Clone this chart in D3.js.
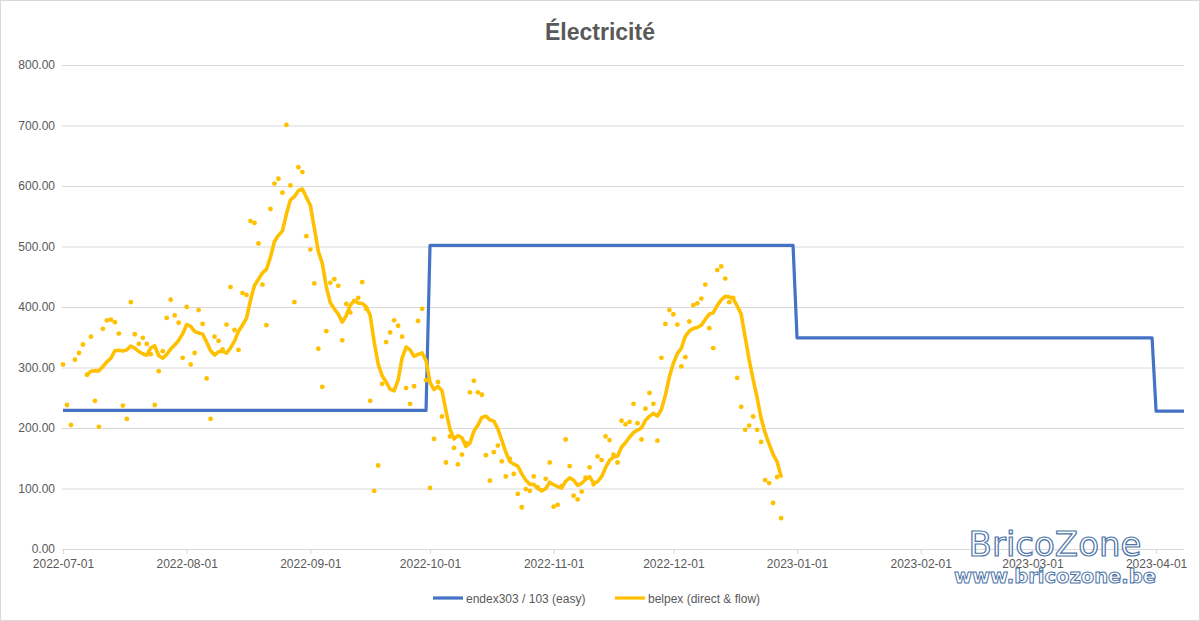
<!DOCTYPE html>
<html>
<head>
<meta charset="utf-8">
<script src="https://cdn.jsdelivr.net/npm/d3@7"></script>
<style>
  html, body { margin: 0; padding: 0; background: #fff; }
  svg { display: block; }
  text { font-family: "Liberation Sans", Arial, sans-serif; }
</style>
</head>
<body>
<svg id="chart" width="1200" height="621"></svg>
<script>
// ---------- DATA ----------
const chartTitle = "Électricité";
const seriesNames = ["endex303 / 103 (easy)", "belpex (direct & flow)"];

// Belpex daily values (€/MWh), one per day starting 2022-07-01
const belpexStart = "2022-07-01";
const belpexValues = [
  305, 238, 205, 313, 324, 338, 288, 351, 245, 202,
  364, 378, 379, 375, 356, 237, 215, 408, 355, 339,
  349, 339, 322, 238, 294, 327, 382, 412, 386, 374,
  316, 400, 305, 324, 395, 372, 282, 215, 351, 344,
  330, 371, 433, 362, 329, 423, 420, 542, 539, 505,
  437, 370, 562, 604, 612, 589, 701, 601, 408, 631,
  623, 517, 495, 439, 331, 268, 360, 440, 446, 435,
  345, 405, 391, 410, 415, 441, 397, 245, 96, 138,
  273, 342, 358, 378, 369, 351, 266, 240, 269, 377,
  397, 279, 101, 182, 276, 219, 143, 186, 167, 140,
  156, 175, 259, 278, 259, 255, 155, 113, 160, 171,
  145, 120, 149, 124, 91, 69, 99, 96, 120, 102,
  97, 116, 143, 70, 73, 104, 181, 137, 88, 82,
  95, 118, 135, 107, 153, 147, 186, 180, 156, 143,
  212, 206, 210, 240, 208, 181, 232, 258, 240, 179,
  316, 372, 395, 388, 371, 302, 317, 376, 403, 406,
  414, 437, 365, 332, 461, 467, 447, 408, 415, 283,
  235, 197, 204, 219, 197, 177, 114, 109, 76, 119,
  51
];
// Excel moving-average trendline period on the belpex series
const trendPeriod = 7;

// Endex step tariff
const endexDates  = ["2022-07-01", "2022-09-30", "2022-10-01", "2022-12-31", "2023-01-01", "2023-03-31", "2023-04-01", "2023-04-08"];
const endexValues = [229, 229, 502, 502, 349, 349, 228, 228];

const xTickLabels = ["2022-07-01", "2022-08-01", "2022-09-01", "2022-10-01", "2022-11-01",
                     "2022-12-01", "2023-01-01", "2023-02-01", "2023-03-01", "2023-04-01"];
const yTickValues = [0, 100, 200, 300, 400, 500, 600, 700, 800];
const xDomain = ["2022-07-01", "2023-04-08"];
const watermark = ["BricoZone", "www.bricozone.be"];

// ---------- LAYOUT ----------
const parse = d3.utcParse("%Y-%m-%d");
const svg = d3.select("#chart");
const W = 1200, H = 621;
const plot = { left: 63, right: 1184, top: 65, bottom: 549 };

const x = d3.scaleUtc().domain(xDomain.map(parse)).range([plot.left, plot.right]);
const y = d3.scaleLinear().domain([0, 800]).range([plot.bottom, plot.top]);

const BLUE = "#4472C4", ORANGE = "#FFC000", GRID = "#d9d9d9", TXT = "#595959";

// chart border
svg.append("rect").attr("x", 0.5).attr("y", 0.5).attr("width", W - 1).attr("height", H - 1)
  .attr("fill", "#fff").attr("stroke", GRID);

// title
svg.append("text").attr("x", 600).attr("y", 40).attr("text-anchor", "middle")
  .attr("font-size", 23).attr("font-weight", "bold").attr("fill", TXT).text(chartTitle);

// gridlines + y labels
const yAxis = d3.axisLeft(y).tickValues(yTickValues).tickFormat(d3.format(".2f"))
  .tickSize(-(plot.right - plot.left + 1)).tickPadding(7);
const gy = svg.append("g").attr("transform", `translate(${plot.left - 1},0)`).call(yAxis);
gy.select(".domain").remove();
gy.selectAll(".tick line").attr("stroke", GRID).attr("stroke-width", 1);
gy.selectAll(".tick text").attr("fill", TXT).attr("font-size", 12)
  .style("font-family", '"Liberation Sans", Arial, sans-serif');

// x axis
const xAxis = d3.axisBottom(x).tickValues(xTickLabels.map(parse))
  .tickFormat(d3.utcFormat("%Y-%m-%d")).tickSize(5).tickPadding(5);
const gx = svg.append("g").attr("transform", `translate(0,${plot.bottom})`).call(xAxis);
gx.select(".domain").attr("d", `M${plot.left - 1},0.5H${plot.right}`).attr("stroke", GRID);
gx.selectAll(".tick line").attr("stroke", GRID);
gx.selectAll(".tick text").attr("fill", TXT).attr("font-size", 12)
  .style("font-family", '"Liberation Sans", Arial, sans-serif');

// endex step line
const endex = endexDates.map((d, i) => ({ date: parse(d), v: endexValues[i] }));
svg.append("path").datum(endex)
  .attr("fill", "none").attr("stroke", BLUE).attr("stroke-width", 3.2)
  .attr("stroke-linejoin", "round")
  .attr("d", d3.line().x(d => x(d.date)).y(d => y(d.v)));

// belpex daily points
const start = parse(belpexStart);
const belpex = belpexValues.map((v, i) => ({ date: d3.utcDay.offset(start, i), v }));
svg.append("g").selectAll("circle").data(belpex).join("circle")
  .attr("cx", d => x(d.date)).attr("cy", d => y(d.v)).attr("r", 2.4).attr("fill", ORANGE);

// moving-average trendline (Excel "7 per. Mov. Avg.")
const trend = belpex.slice(trendPeriod - 1).map((d, i) => ({
  date: d.date,
  v: d3.mean(belpexValues.slice(i, i + trendPeriod))
}));
svg.append("path").datum(trend)
  .attr("fill", "none").attr("stroke", ORANGE).attr("stroke-width", 3.6)
  .attr("stroke-linejoin", "round").attr("stroke-linecap", "round")
  .attr("d", d3.line().x(d => x(d.date)).y(d => y(d.v)));

// legend
const legend = [
  { name: seriesNames[0], color: BLUE, x: 433 },
  { name: seriesNames[1], color: ORANGE, x: 615 }
];
const lg = svg.append("g").selectAll("g").data(legend).join("g")
  .attr("transform", d => `translate(${d.x},598)`);
lg.append("line").attr("x1", 0).attr("x2", 30).attr("y1", 0).attr("y2", 0)
  .attr("stroke", d => d.color).attr("stroke-width", 3.2);
lg.append("text").attr("x", 33).attr("y", 4.5).attr("font-size", 12).attr("fill", TXT)
  .text(d => d.name);

// watermark (overlays the plot bottom-right, as in the original image)
const wm = svg.append("g");
wm.append("text").attr("x", 1055).attr("y", 556).attr("text-anchor", "middle")
  .attr("font-size", 34).attr("fill", "#ffffff").attr("stroke", "#4a72a6").attr("stroke-width", 1.2)
  .style("font-family", '"DejaVu Sans", sans-serif').text(watermark[0]);
wm.append("text").attr("x", 1055).attr("y", 583).attr("text-anchor", "middle")
  .attr("font-size", 19.5).attr("font-weight", "bold").attr("fill", "#ffffff").attr("stroke", "#4a72a6")
  .attr("stroke-width", 1).style("font-family", '"DejaVu Sans", sans-serif').text(watermark[1]);
</script>
</body>
</html>
